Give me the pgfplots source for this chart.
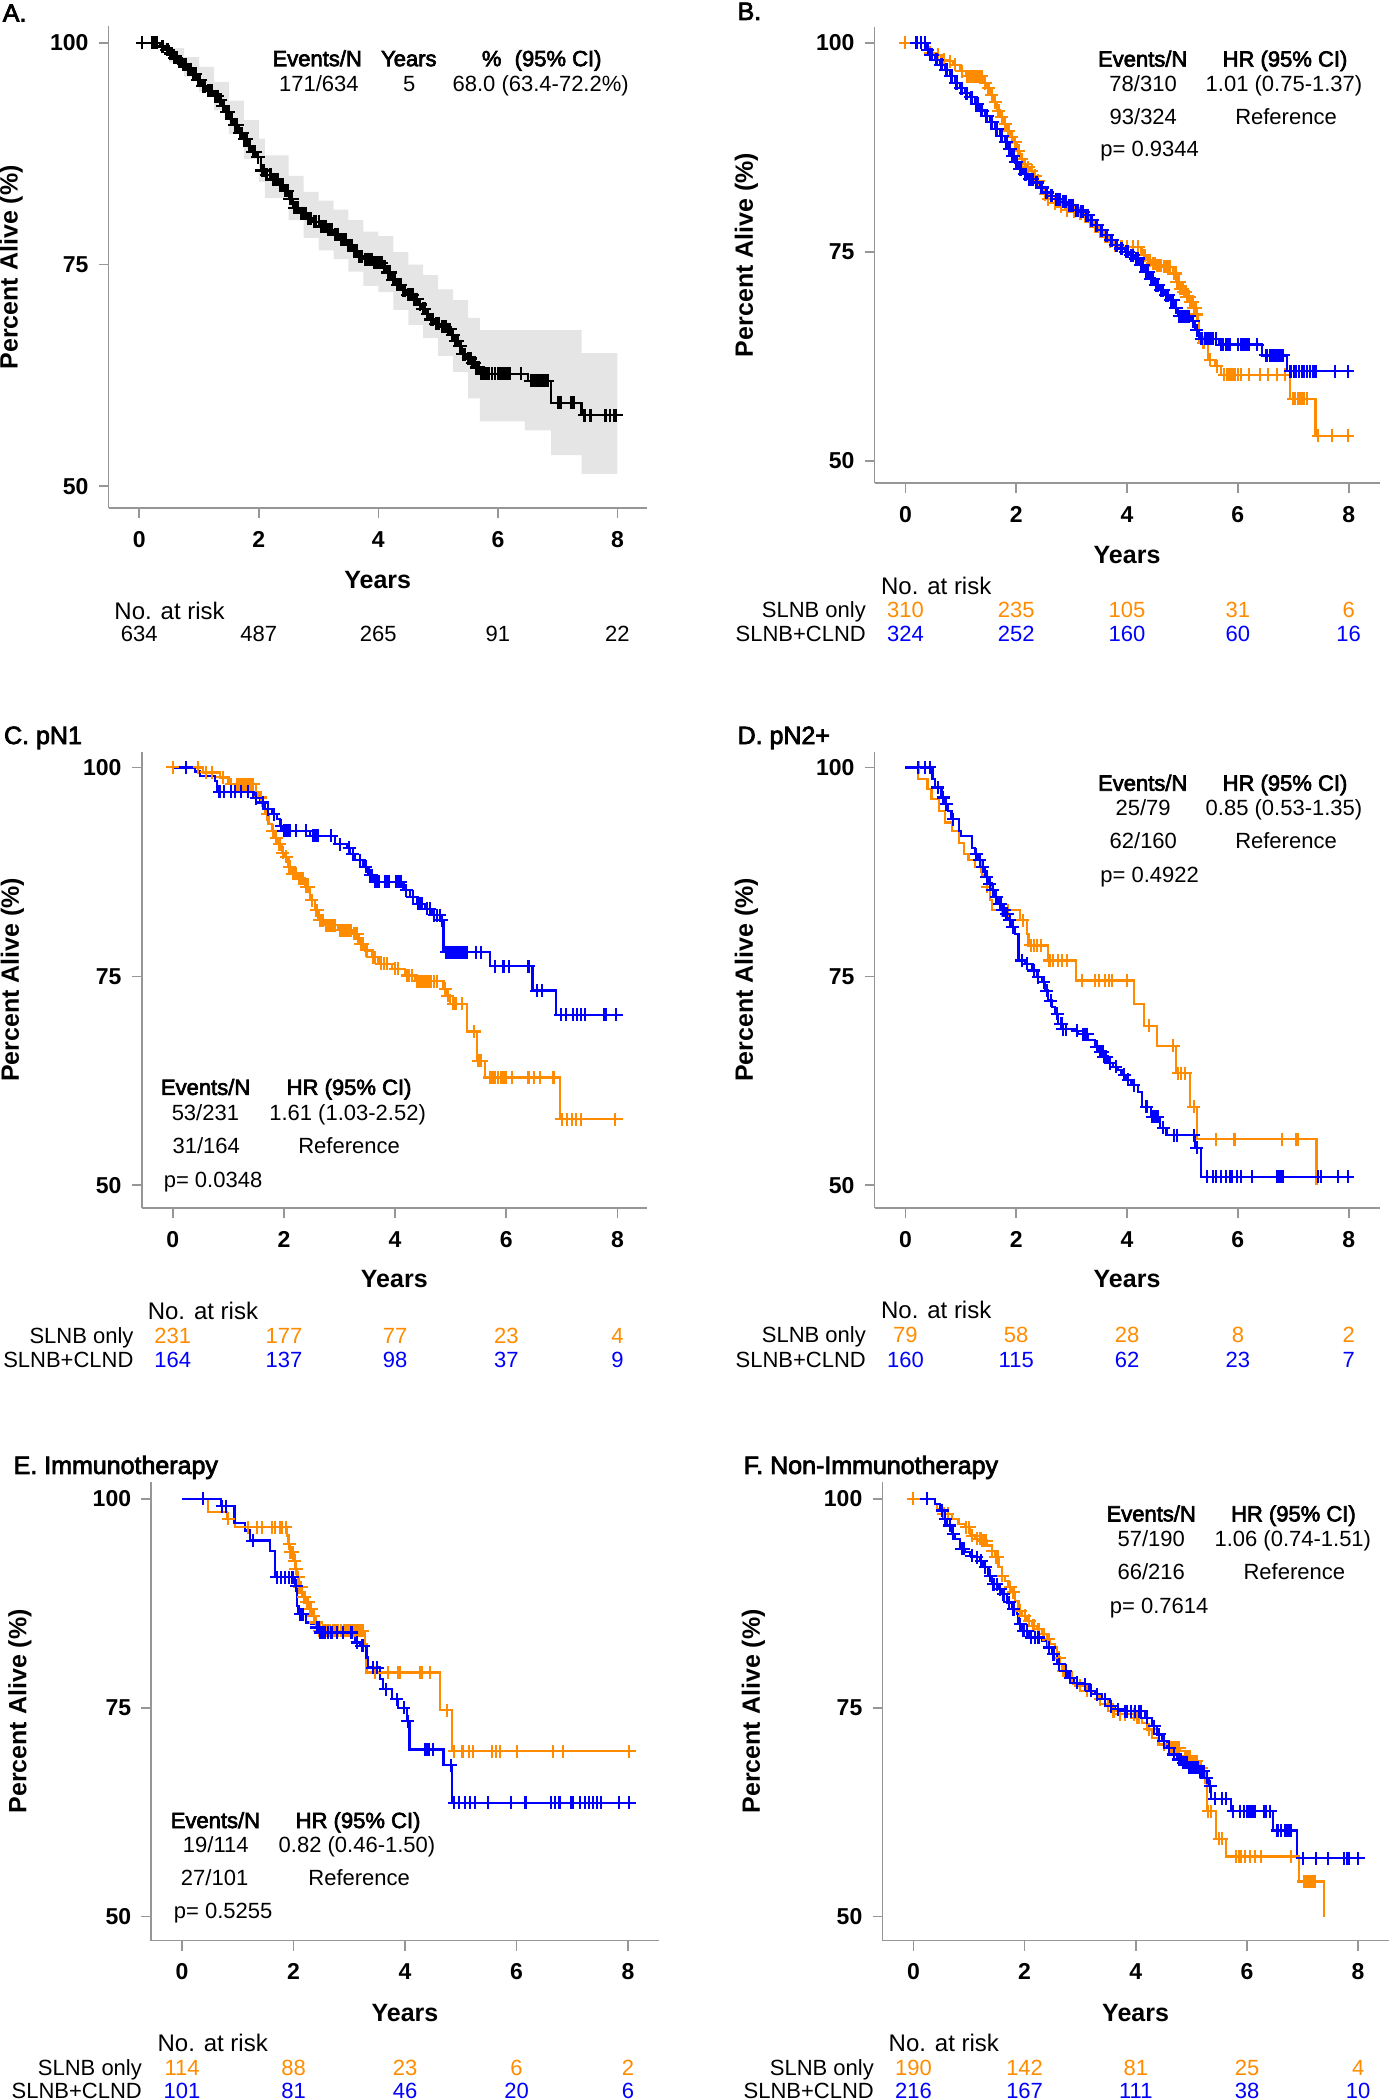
\documentclass[border=0pt]{standalone}
\usepackage{fontspec}
\setmainfont{Liberation Sans}
\newfontfamily\semib[FakeBold=3]{Liberation Sans}
\usepackage{pgfplots}
\pgfplotsset{compat=1.18}
\usepgfplotslibrary{fillbetween}

\definecolor{kmorange}{RGB}{255,140,0}
\definecolor{kmblue}{RGB}{0,0,255}
\definecolor{axgray}{RGB}{150,150,150}
\definecolor{bandgray}{RGB}{229,229,229}

\newcommand\fs[1]{\fontsize{#1pt}{#1pt}\selectfont}

\pgfplotsset{
 kmaxis/.style={
  anchor=south west, scale only axis, clip=false,
  axis lines*=left,
  axis line style={draw=axgray, line width=1.7pt},
  xtick={0,2,4,6,8}, ytick={50,75,100},
  tick align=outside, major tick length=10pt,
  tick style={draw=axgray, line width=1.7pt},
  /pgf/number format/assume math mode=true,
  ticklabel style={font=\fs{23}\bfseries, inner sep=0pt, text=black},
  xticklabel style={anchor=center, yshift=-21pt},
  yticklabel style={anchor=east, xshift=-10pt},
  xlabel={Years}, ylabel={Percent Alive (\%)},
 },
 oline/.style={const plot, draw=kmorange, line width=2.2pt, mark=none},
 bline/.style={const plot, draw=kmblue, line width=2.2pt, mark=none},
 kline/.style={const plot, draw=black, line width=2.2pt, mark=none},
 omark/.style={only marks, mark=+, mark size=6.5pt, color=kmorange, mark options={line width=2.1pt}},
 bmark/.style={only marks, mark=+, mark size=6.5pt, color=kmblue, mark options={line width=2.1pt}},
 kmark/.style={only marks, mark=+, mark size=6.5pt, color=black, mark options={line width=2.2pt}},
}

\begin{document}
\begin{tikzpicture}[t/.style={inner sep=0pt, anchor=base}]

%% ---------------- Panel A ----------------
\begin{axis}[kmaxis, at={(108.6pt,-508.3pt)}, width=538.3pt, height=482.0pt,
  xmin=-0.514, xmax=8.493, ymin=47.51, ymax=101.87,
  every axis x label/.style={at={(axis description cs:0.5,-0.148)},anchor=center,font=\fs{25}\bfseries},
  every axis y label/.style={at={(axis description cs:-0.181,0.5)},rotate=90,anchor=center,font=\fs{25}\bfseries}]
\addplot[name path=up, draw=none, const plot, forget plot] coordinates {
(0,100) (0.25,100) (0.5,99.4) (0.75,98.4) (1.0,97.3) (1.25,95.6) (1.5,93.5) (1.75,91.3) (2.0,89.2) (2.1,87.3) (2.5,85.0) (2.75,83.2) (3.0,82.2) (3.25,81.2) (3.5,80.0) (3.75,78.7) (4.0,78.2) (4.25,76.4) (4.5,75.0) (4.75,73.8) (5.0,72.2) (5.25,71.0) (5.5,69.0) (5.7,67.6) (7.4,65.0) (8.0,65.0)};
\addplot[name path=lo, draw=none, const plot, forget plot] coordinates {
(0,100) (0.25,99.4) (0.5,97.8) (0.75,96.2) (1.0,94.5) (1.25,92.4) (1.5,89.7) (1.75,86.9) (2.0,84.3) (2.1,82.5) (2.5,80.0) (2.75,78.0) (3.0,76.6) (3.25,75.6) (3.5,74.2) (3.75,72.6) (4.0,71.9) (4.25,69.9) (4.5,68.2) (4.75,66.7) (5.0,64.7) (5.25,62.9) (5.5,59.9) (5.7,57.3) (6.45,56.3) (6.89,53.5) (7.4,51.4) (8.0,51.4)};
\addplot[fill=bandgray, draw=none] fill between[of=up and lo];
\addplot[kline] coordinates {
(0,100) (0.35,99.6) (0.42,99.2) (0.50,98.8) (0.57,98.3) (0.65,97.9) (0.72,97.6) (0.80,97.0) (0.88,96.5) (0.96,95.8) (1.04,95.1) (1.13,94.6) (1.24,94.0) (1.33,93.6) (1.38,92.9) (1.44,92.2) (1.52,91.4) (1.58,90.7) (1.66,89.8) (1.74,89.2) (1.82,88.4) (1.88,87.7) (1.96,87.1) (2.03,85.6) (2.10,85.1) (2.22,84.6) (2.34,84.0) (2.42,83.3) (2.50,82.4) (2.57,81.4) (2.68,80.8) (2.80,80.2) (2.90,79.8) (3.02,79.3) (3.14,78.9) (3.25,78.4) (3.36,77.8) (3.47,77.2) (3.57,76.5) (3.66,75.9) (3.75,75.6) (3.92,75.2) (4.08,74.8) (4.14,74.1) (4.22,73.3) (4.30,72.7) (4.39,72.1) (4.47,71.6) (4.58,71.1) (4.67,70.5) (4.72,70.0) (4.80,69.4) (4.86,68.8) (4.94,68.3) (5.05,68.0) (5.14,67.7) (5.22,67.1) (5.28,66.4) (5.34,65.8) (5.39,64.9) (5.48,64.4) (5.56,63.9) (5.62,63.4) (5.70,62.7) (6.50,61.9) (6.89,59.4) (7.40,58.0) (8.10,58.0)};
\addplot[kmark] coordinates {
(0.05,100) (0.22,100) (0.26,100) (0.30,100) (0.38,99.6) (0.46,99.2) (0.54,98.8) (0.61,98.3) (0.69,97.9) (0.76,97.6) (0.84,97.0) (0.92,96.5) (1.00,95.8) (1.08,95.1) (1.10,95.1) (1.17,94.6) (1.21,94.6) (1.28,94.0) (1.35,93.6) (1.41,92.9) (1.48,92.2) (1.55,91.4) (1.62,90.7) (1.70,89.8) (1.78,89.2) (1.85,88.4) (1.92,87.7) (1.99,87.1) (2.05,85.6) (2.08,85.6) (2.14,85.1) (2.18,85.1) (2.26,84.6) (2.30,84.6) (2.38,84.0) (2.46,83.3) (2.54,82.4) (2.62,81.4) (2.65,81.4) (2.72,80.8) (2.76,80.8) (2.84,80.2) (2.87,80.2) (2.95,79.8) (3.06,79.3) (3.10,79.3) (3.18,78.9) (3.21,78.9) (3.30,78.4) (3.40,77.8) (3.43,77.8) (3.52,77.2) (3.61,76.5) (3.70,75.9) (3.80,75.6) (3.86,75.6) (3.96,75.2) (4.00,75.2) (4.04,75.2) (4.11,74.8) (4.18,74.1) (4.26,73.3) (4.34,72.7) (4.43,72.1) (4.52,71.6) (4.55,71.6) (4.62,71.1) (4.70,70.5) (4.76,70.0) (4.83,69.4) (4.90,68.8) (4.97,68.3) (5.00,68.3) (5.08,68.0) (5.11,68.0) (5.18,67.7) (5.25,67.1) (5.31,66.4) (5.36,65.8) (5.43,64.9) (5.45,64.9) (5.52,64.4) (5.59,63.9) (5.66,63.4) (5.75,62.7) (5.80,62.7) (5.83,62.7) (6.00,62.7) (6.05,62.7) (6.10,62.7) (6.15,62.7) (6.20,62.7) (6.38,62.7) (6.55,61.9) (6.60,61.9) (6.65,61.9) (6.70,61.9) (6.75,61.9) (6.83,61.9) (7.00,59.4) (7.05,59.4) (7.22,59.4) (7.27,59.4) (7.45,58.0) (7.55,58.0) (7.80,58.0) (7.88,58.0) (7.98,58.0)};
\addplot[kmark] coordinates {
(0.40,99.6) (0.48,99.2) (0.52,98.8) (0.59,98.3) (0.63,98.3) (0.67,97.9) (0.74,97.6) (0.78,97.6) (0.82,97.0) (0.86,97.0) (0.90,96.5) (0.94,96.5) (0.98,95.8) (1.02,95.8) (1.06,95.1) (1.15,94.6) (1.19,94.6) (1.26,94.0) (1.31,94.0) (1.36,93.6) (1.40,92.9) (1.46,92.2) (1.50,92.2) (1.54,91.4) (1.60,90.7) (1.64,90.7) (1.68,89.8) (1.72,89.8) (1.76,89.2) (1.80,89.2) (1.84,88.4) (1.90,87.7) (1.94,87.7) (1.98,87.1) (2.12,85.1) (2.20,85.1) (2.24,84.6) (2.28,84.6) (2.32,84.6) (2.36,84.0) (2.40,84.0) (2.44,83.3) (2.48,83.3) (2.52,82.4) (2.56,82.4) (2.59,81.4) (2.70,80.8) (2.74,80.8) (2.78,80.8) (2.82,80.2) (2.92,79.8) (3.00,79.8) (3.04,79.3) (3.13,79.3) (3.16,78.9) (3.23,78.9) (3.27,78.4) (3.33,78.4) (3.38,77.8) (3.45,77.8) (3.49,77.2) (3.55,77.2) (3.59,76.5) (3.64,76.5) (3.68,75.9) (3.73,75.9) (3.77,75.6) (3.83,75.6) (3.89,75.6) (3.93,75.2) (4.02,75.2) (4.06,75.2) (4.09,74.8) (4.16,74.1) (4.20,74.1) (4.24,73.3) (4.28,73.3) (4.32,72.7) (4.37,72.7) (4.41,72.1) (4.45,72.1) (4.49,71.6) (4.57,71.6) (4.60,71.1) (4.65,71.1) (4.69,70.5) (4.74,70.0) (4.78,70.0) (4.82,69.4) (4.88,68.8) (4.92,68.8) (4.96,68.3) (5.02,68.3) (5.07,68.0) (5.13,68.0) (5.16,67.7) (5.20,67.7) (5.24,67.1) (5.29,66.4) (5.33,66.4) (5.38,65.8) (5.41,64.9) (5.50,64.4) (5.54,64.4) (5.57,63.9) (5.61,63.9) (5.64,63.4) (5.68,63.4) (5.72,62.7) (5.78,62.7) (5.85,62.7) (5.90,62.7) (5.95,62.7) (6.02,62.7) (6.08,62.7) (6.12,62.7) (6.18,62.7) (6.58,61.9) (6.63,61.9) (6.68,61.9) (6.72,61.9) (6.78,61.9) (6.80,61.9) (7.02,59.4) (7.25,59.4) (7.95,58.0)};
\end{axis}

%% ---------------- Panel B ----------------
\begin{axis}[kmaxis, at={(874.6pt,-483.1pt)}, width=504.9pt, height=456.4pt,
  xmin=-0.556, xmax=8.556, ymin=47.32, ymax=101.94,
  every axis x label/.style={at={(axis description cs:0.5,-0.1575)},anchor=center,font=\fs{25}\bfseries},
  every axis y label/.style={at={(axis description cs:-0.254,0.5)},rotate=90,anchor=center,font=\fs{25}\bfseries}]
\addplot[oline] coordinates {
(0,100) (0.41,98.8) (0.53,98.6) (0.65,98.0) (0.77,97.8) (0.86,97.4) (0.98,96.6) (1.10,96.0) (1.41,95.2) (1.47,94.6) (1.53,93.8) (1.59,92.9) (1.65,91.9) (1.71,91.1) (1.77,90.3) (1.83,89.5) (1.89,88.7) (1.95,88.1) (2.01,87.1) (2.07,86.1) (2.13,85.5) (2.19,85.1) (2.25,84.7) (2.31,84.1) (2.37,83.5) (2.43,82.7) (2.49,81.9) (2.55,81.3) (2.64,80.8) (2.76,80.4) (2.88,80.0) (3.00,79.8) (3.12,79.6) (3.21,79.2) (3.30,78.6) (3.39,78.0) (3.48,77.4) (3.57,76.8) (3.66,76.2) (3.75,75.8) (3.84,75.6) (4.26,74.6) (4.35,74.0) (4.44,73.6) (4.53,73.4) (4.65,73.2) (4.83,72.4) (4.89,71.4) (4.95,70.6) (5.01,70.2) (5.07,69.6) (5.13,69.0) (5.19,68.3) (5.25,67.5) (5.28,66.7) (5.30,64.1) (5.46,62.1) (5.58,61.3) (5.70,60.3) (6.94,57.4) (7.40,53.0) (8.10,53.0)};
\addplot[omark] coordinates {
(0,100) (0.45,98.8) (0.58,98.6) (0.70,98.0) (0.80,97.8) (0.90,97.4) (1.02,96.6) (1.12,96.0) (1.15,96.0) (1.18,96.0) (1.21,96.0) (1.24,96.0) (1.27,96.0) (1.30,96.0) (1.35,96.0) (1.44,95.2) (1.50,94.6) (1.56,93.8) (1.62,92.9) (1.68,91.9) (1.74,91.1) (1.80,90.3) (1.86,89.5) (1.92,88.7) (1.98,88.1) (2.04,87.1) (2.10,86.1) (2.16,85.5) (2.22,85.1) (2.28,84.7) (2.34,84.1) (2.40,83.5) (2.46,82.7) (2.52,81.9) (2.58,81.3) (2.70,80.8) (2.80,80.4) (2.92,80.0) (3.05,79.8) (3.16,79.6) (3.25,79.2) (3.34,78.6) (3.43,78.0) (3.52,77.4) (3.61,76.8) (3.70,76.2) (3.79,75.8) (3.90,75.6) (4.00,75.6) (4.10,75.6) (4.20,75.6) (4.30,74.6) (4.40,74.0) (4.48,73.6) (4.58,73.4) (4.62,73.4) (4.70,73.2) (4.78,73.2) (4.86,72.4) (4.92,71.4) (4.98,70.6) (5.04,70.2) (5.10,69.6) (5.16,69.0) (5.22,68.3) (5.38,64.1) (5.50,62.1) (5.62,61.3) (5.75,60.3) (5.80,60.3) (5.85,60.3) (5.90,60.3) (5.95,60.3) (6.05,60.3) (6.20,60.3) (6.40,60.3) (6.55,60.3) (6.70,60.3) (6.85,60.3) (7.00,57.4) (7.08,57.4) (7.15,57.4) (7.25,57.4) (7.45,53.0) (7.70,53.0) (7.98,53.0)};
\addplot[omark] coordinates {
(1.13,96.0) (1.17,96.0) (1.20,96.0) (1.23,96.0) (1.26,96.0) (1.29,96.0) (1.32,96.0) (1.38,96.0) (4.32,74.6) (4.37,74.0) (4.42,74.0) (4.46,73.6) (4.50,73.6) (4.55,73.4) (4.66,73.2) (4.74,73.2) (4.84,72.4) (4.88,72.4) (4.90,71.4) (4.94,71.4) (4.96,70.6) (5.00,70.6) (5.02,70.2) (5.06,70.2) (5.08,69.6) (5.12,69.6) (5.14,69.0) (5.18,69.0) (5.20,68.3) (5.24,68.3) (5.26,67.5) (5.82,60.3) (5.87,60.3) (5.92,60.3) (6.00,60.3) (7.03,57.4) (7.12,57.4) (7.20,57.4)};
\addplot[bline] coordinates {
(0,100) (0.38,99.2) (0.44,98.6) (0.53,98.0) (0.62,97.4) (0.71,96.8) (0.80,96.0) (0.89,95.2) (0.98,94.6) (1.07,94.0) (1.16,93.5) (1.26,92.7) (1.35,91.9) (1.44,91.3) (1.53,90.5) (1.62,89.7) (1.71,88.9) (1.80,88.1) (1.86,87.3) (1.92,86.5) (1.98,85.7) (2.04,84.9) (2.13,84.3) (2.22,83.7) (2.34,83.3) (2.43,82.7) (2.52,82.1) (2.61,81.7) (2.70,81.3) (2.82,81.0) (2.94,80.6) (3.06,80.0) (3.15,79.8) (3.24,79.4) (3.33,78.8) (3.42,78.2) (3.51,77.6) (3.60,77.0) (3.69,76.4) (3.78,75.8) (3.87,75.4) (3.96,75.0) (4.05,74.6) (4.14,74.2) (4.23,73.4) (4.32,72.6) (4.41,71.8) (4.50,71.0) (4.59,70.4) (4.68,69.8) (4.77,69.2) (4.86,68.3) (4.92,67.3) (5.16,66.7) (5.22,65.6) (5.30,64.6) (5.66,63.9) (6.43,62.6) (6.89,60.7) (8.10,60.7)};
\addplot[bmark] coordinates {
(0.20,100) (0.28,100) (0.35,100) (0.40,99.2) (0.48,98.6) (0.57,98.0) (0.66,97.4) (0.75,96.8) (0.84,96.0) (0.93,95.2) (1.02,94.6) (1.11,94.0) (1.20,93.5) (1.30,92.7) (1.39,91.9) (1.48,91.3) (1.57,90.5) (1.66,89.7) (1.75,88.9) (1.83,88.1) (1.89,87.3) (1.95,86.5) (2.01,85.7) (2.08,84.9) (2.17,84.3) (2.27,83.7) (2.38,83.3) (2.47,82.7) (2.56,82.1) (2.65,81.7) (2.75,81.3) (2.87,81.0) (2.98,80.6) (3.10,80.0) (3.19,79.8) (3.28,79.4) (3.37,78.8) (3.46,78.2) (3.55,77.6) (3.64,77.0) (3.73,76.4) (3.82,75.8) (3.91,75.4) (4.00,75.0) (4.09,74.6) (4.18,74.2) (4.27,73.4) (4.36,72.6) (4.45,71.8) (4.54,71.0) (4.63,70.4) (4.72,69.8) (4.81,69.2) (4.89,68.3) (4.96,67.3) (5.00,67.3) (5.04,67.3) (5.08,67.3) (5.19,66.7) (5.26,65.6) (5.34,64.6) (5.40,64.6) (5.48,64.6) (5.55,64.6) (5.70,63.9) (5.78,63.9) (5.85,63.9) (6.05,63.9) (6.10,63.9) (6.15,63.9) (6.35,63.9) (6.50,62.6) (6.62,62.6) (6.70,62.6) (6.78,62.6) (6.95,60.7) (7.02,60.7) (7.10,60.7) (7.20,60.7) (7.30,60.7) (7.40,60.7) (7.75,60.7) (7.98,60.7)};
\addplot[bmark] coordinates {
(0.45,98.6) (0.55,98.0) (0.64,97.4) (0.73,96.8) (0.82,96.0) (0.91,95.2) (1.00,94.6) (1.09,94.0) (1.18,93.5) (1.28,92.7) (1.37,91.9) (1.46,91.3) (1.55,90.5) (1.64,89.7) (1.73,88.9) (1.81,88.1) (1.87,87.3) (1.93,86.5) (1.99,85.7) (2.06,84.9) (2.15,84.3) (2.24,83.7) (2.30,83.7) (2.36,83.3) (2.45,82.7) (2.54,82.1) (2.63,81.7) (2.72,81.3) (2.78,81.3) (2.84,81.0) (2.90,81.0) (2.96,80.6) (3.02,80.6) (3.08,80.0) (3.12,80.0) (3.17,79.8) (3.21,79.8) (3.26,79.4) (3.30,79.4) (3.35,78.8) (3.44,78.2) (3.53,77.6) (3.62,77.0) (3.71,76.4) (3.80,75.8) (3.89,75.4) (3.98,75.0) (4.02,75.0) (4.07,74.6) (4.11,74.6) (4.16,74.2) (4.20,74.2) (4.25,73.4) (4.29,73.4) (4.34,72.6) (4.38,72.6) (4.43,71.8) (4.47,71.8) (4.52,71.0) (4.56,71.0) (4.61,70.4) (4.65,70.4) (4.70,69.8) (4.74,69.8) (4.79,69.2) (4.83,69.2) (4.88,68.3) (4.94,67.3) (4.98,67.3) (5.02,67.3) (5.06,67.3) (5.10,67.3) (5.12,67.3) (5.36,64.6) (5.44,64.6) (5.52,64.6) (5.60,64.6) (5.73,63.9) (5.82,63.9) (6.00,63.9) (6.07,63.9) (6.12,63.9) (6.18,63.9) (6.20,63.9) (6.52,62.6) (6.58,62.6) (6.66,62.6) (6.74,62.6) (6.82,62.6) (7.05,60.7) (7.15,60.7) (7.25,60.7) (7.35,60.7)};
\end{axis}

%% ---------------- Panel C ----------------
\begin{axis}[kmaxis, at={(141.7pt,-1208.1pt)}, width=505.2pt, height=456.5pt,
  xmin=-0.560, xmax=8.53, ymin=47.27, ymax=101.89,
  every axis x label/.style={at={(axis description cs:0.5,-0.156)},anchor=center,font=\fs{25}\bfseries},
  every axis y label/.style={at={(axis description cs:-0.256,0.5)},rotate=90,anchor=center,font=\fs{25}\bfseries}]
\addplot[oline] coordinates {
(0,100) (0.55,99.4) (0.85,98.8) (1.00,98.0) (1.50,97.0) (1.54,96.4) (1.60,95.4) (1.66,94.4) (1.72,93.2) (1.78,92.4) (1.84,91.6) (1.90,90.8) (1.96,89.8) (2.02,89.3) (2.08,88.1) (2.14,87.3) (2.26,86.7) (2.38,85.7) (2.47,84.1) (2.56,82.9) (2.62,81.7) (2.74,81.1) (2.98,80.5) (3.22,80.1) (3.34,78.9) (3.46,78.1) (3.58,77.3) (3.70,76.5) (3.94,75.9) (4.18,75.1) (4.36,74.4) (4.87,73.5) (4.93,72.7) (4.99,71.7) (5.29,68.4) (5.47,64.9) (5.62,62.9) (6.96,57.9) (8.10,57.9)};
\addplot[omark] coordinates {
(0,100) (0.45,100) (0.60,99.4) (0.70,99.4) (0.90,98.8) (1.05,98.0) (1.15,98.0) (1.20,98.0) (1.25,98.0) (1.30,98.0) (1.35,98.0) (1.40,98.0) (1.45,98.0) (1.58,96.4) (1.70,94.4) (1.80,92.4) (1.86,91.6) (1.92,90.8) (1.98,89.8) (2.04,89.3) (2.10,88.1) (2.16,87.3) (2.20,87.3) (2.28,86.7) (2.32,86.7) (2.40,85.7) (2.44,85.7) (2.50,84.1) (2.58,82.9) (2.66,81.7) (2.70,81.7) (2.78,81.1) (2.82,81.1) (2.86,81.1) (2.92,81.1) (3.02,80.5) (3.08,80.5) (3.12,80.5) (3.18,80.5) (3.26,80.1) (3.30,80.1) (3.38,78.9) (3.42,78.9) (3.50,78.1) (3.62,77.3) (3.75,76.5) (3.80,76.5) (3.86,76.5) (4.00,75.9) (4.05,75.9) (4.22,75.1) (4.25,75.1) (4.30,75.1) (4.40,74.4) (4.45,74.4) (4.50,74.4) (4.55,74.4) (4.60,74.4) (4.65,74.4) (4.70,74.4) (4.76,74.4) (4.90,73.5) (4.95,72.7) (5.05,71.7) (5.10,71.7) (5.20,71.7) (5.42,68.4) (5.50,64.9) (5.55,64.9) (5.70,62.9) (5.75,62.9) (5.85,62.9) (5.90,62.9) (5.95,62.9) (6.00,62.9) (6.10,62.9) (6.40,62.9) (6.50,62.9) (6.60,62.9) (6.85,62.9) (7.00,57.9) (7.10,57.9) (7.18,57.9) (7.25,57.9) (7.35,57.9) (7.95,57.9)};
\addplot[omark] coordinates {
(1.18,98.0) (1.22,98.0) (1.28,98.0) (1.33,98.0) (1.38,98.0) (1.42,98.0) (2.18,87.3) (2.22,87.3) (2.30,86.7) (2.34,86.7) (2.42,85.7) (2.60,82.9) (2.64,81.7) (2.68,81.7) (2.76,81.1) (2.80,81.1) (2.84,81.1) (2.88,81.1) (2.90,81.1) (3.00,80.5) (3.04,80.5) (3.06,80.5) (3.10,80.5) (3.14,80.5) (3.16,80.5) (3.20,80.5) (3.28,80.1) (3.32,80.1) (3.48,78.1) (3.60,77.3) (3.64,77.3) (4.42,74.4) (4.48,74.4) (4.52,74.4) (5.72,62.9) (5.78,62.9) (5.80,62.9)};
\addplot[bline] coordinates {
(0,100) (0.40,99.5) (0.49,99.0) (0.76,98.4) (0.79,97.1) (1.45,96.3) (1.57,95.8) (1.66,95.0) (1.78,94.4) (1.87,93.8) (1.93,93.0) (1.99,92.4) (2.47,91.8) (2.92,90.8) (3.13,90.4) (3.19,89.6) (3.28,88.9) (3.43,88.1) (3.52,87.1) (3.62,86.3) (4.15,85.3) (4.27,84.5) (4.39,83.7) (4.54,83.1) (4.66,82.3) (4.81,81.7) (4.87,77.9) (5.70,76.2) (6.47,73.3) (6.90,70.4) (8.10,70.4)};
\addplot[bmark] coordinates {
(0.24,100) (0.84,97.1) (0.92,97.1) (1.05,97.1) (1.12,97.1) (1.22,97.1) (1.35,97.1) (1.50,96.3) (1.62,95.8) (1.72,95.0) (1.82,94.4) (1.95,93.0) (2.02,92.4) (2.05,92.4) (2.08,92.4) (2.22,92.4) (2.40,92.4) (2.55,91.8) (2.58,91.8) (2.62,91.8) (2.85,91.8) (3.00,90.8) (3.17,90.4) (3.24,89.6) (3.36,88.9) (3.47,88.1) (3.55,87.1) (3.58,87.1) (3.66,86.3) (3.70,86.3) (3.82,86.3) (3.86,86.3) (4.05,86.3) (4.10,86.3) (4.20,85.3) (4.32,84.5) (4.42,83.7) (4.45,83.7) (4.48,83.7) (4.58,83.1) (4.62,83.1) (4.70,82.3) (4.84,81.7) (4.92,77.9) (5.00,77.9) (5.02,77.9) (5.15,77.9) (5.20,77.9) (5.25,77.9) (5.30,77.9) (5.45,77.9) (5.55,77.9) (5.80,76.2) (5.95,76.2) (6.05,76.2) (6.40,76.2) (6.55,73.3) (6.65,73.3) (6.98,70.4) (7.08,70.4) (7.20,70.4) (7.28,70.4) (7.35,70.4) (7.42,70.4) (7.75,70.4) (7.80,70.4) (7.98,70.4)};
\addplot[bmark] coordinates {
(2.00,92.4) (2.04,92.4) (2.06,92.4) (2.10,92.4) (2.52,91.8) (2.56,91.8) (2.60,91.8) (3.56,87.1) (3.64,86.3) (3.68,86.3) (3.84,86.3) (3.88,86.3) (4.02,86.3) (4.07,86.3) (4.44,83.7) (4.46,83.7) (4.76,82.3) (4.80,82.3) (4.95,77.9) (4.98,77.9) (5.05,77.9) (5.10,77.9) (5.12,77.9) (5.18,77.9) (5.22,77.9) (5.28,77.9)};
\end{axis}

%% ---------------- Panel D ----------------
\begin{axis}[kmaxis, at={(874.6pt,-1208.1pt)}, width=504.9pt, height=456.5pt,
  xmin=-0.556, xmax=8.556, ymin=47.27, ymax=101.89,
  every axis x label/.style={at={(axis description cs:0.5,-0.156)},anchor=center,font=\fs{25}\bfseries},
  every axis y label/.style={at={(axis description cs:-0.254,0.5)},rotate=90,anchor=center,font=\fs{25}\bfseries}]
\addplot[oline] coordinates {
(0,100) (0.22,98.6) (0.40,97.4) (0.47,96.2) (0.60,94.8) (0.72,93.4) (0.84,92.4) (0.96,91.0) (1.05,89.6) (1.14,88.9) (1.26,88.1) (1.38,87.1) (1.47,85.7) (1.53,84.1) (1.56,82.9) (2.07,81.7) (2.19,80.1) (2.22,78.7) (2.58,76.9) (3.08,74.5) (4.12,71.7) (4.30,69.1) (4.54,66.7) (4.88,63.4) (5.14,59.4) (5.26,55.5) (7.42,50.0)};
\addplot[omark] coordinates {
(0.25,100) (1.37,88.1) (1.48,85.7) (1.75,82.9) (1.85,82.9) (2.12,81.7) (2.26,78.7) (2.32,78.7) (2.38,78.7) (2.45,78.7) (2.60,76.9) (2.66,76.9) (2.75,76.9) (2.82,76.9) (2.92,76.9) (3.18,74.5) (3.42,74.5) (3.50,74.5) (3.60,74.5) (3.68,74.5) (3.72,74.5) (4.00,74.5) (4.40,69.1) (4.83,66.7) (4.92,63.4) (4.98,63.4) (5.05,63.4) (5.20,59.4) (5.60,55.5) (5.93,55.5) (5.95,55.5) (6.80,55.5) (7.05,55.5) (7.08,55.5)};
\addplot[bline] coordinates {
(0,100) (0.49,98.6) (0.53,97.6) (0.65,96.4) (0.71,95.6) (0.77,94.8) (0.83,93.8) (0.96,92.4) (1.01,91.8) (1.20,90.4) (1.26,89.6) (1.32,88.9) (1.38,88.1) (1.44,86.9) (1.50,86.1) (1.56,85.3) (1.62,84.5) (1.68,83.7) (1.74,82.9) (1.80,82.5) (1.86,81.7) (1.92,80.9) (1.98,80.1) (2.04,76.9) (2.16,76.5) (2.28,75.7) (2.37,74.9) (2.46,74.3) (2.52,73.3) (2.58,72.1) (2.64,71.3) (2.70,70.5) (2.76,69.3) (2.85,68.7) (3.06,68.5) (3.12,68.1) (3.30,67.4) (3.42,66.6) (3.48,66.0) (3.57,65.4) (3.66,64.6) (3.75,64.2) (3.84,63.8) (3.90,63.2) (3.99,62.6) (4.08,62.0) (4.20,61.2) (4.27,59.4) (4.43,58.2) (4.59,56.9) (4.71,56.0) (5.22,54.5) (5.34,51.0) (8.10,51.0)};
\addplot[bmark] coordinates {
(0.23,100) (0.35,100) (0.44,100) (0.58,97.6) (0.68,96.4) (0.74,95.6) (0.86,93.8) (1.28,89.6) (1.34,88.9) (1.40,88.1) (1.47,86.9) (1.52,86.1) (1.58,85.3) (1.64,84.5) (1.70,83.7) (1.76,82.9) (1.82,82.5) (1.88,81.7) (1.94,80.9) (2.10,76.9) (2.20,76.5) (2.32,75.7) (2.40,74.9) (2.50,74.3) (2.55,73.3) (2.62,72.1) (2.74,70.5) (2.80,69.3) (2.82,69.3) (2.90,68.7) (3.10,68.5) (3.20,68.1) (3.22,68.1) (3.25,68.1) (3.28,68.1) (3.45,66.6) (3.52,66.0) (3.55,66.0) (3.60,65.4) (3.62,65.4) (3.70,64.6) (3.80,64.2) (3.95,63.2) (4.02,62.6) (4.12,62.0) (4.35,59.4) (4.45,58.2) (4.48,58.2) (4.55,58.2) (4.65,56.9) (4.85,56.0) (4.90,56.0) (5.20,56.0) (5.26,54.5) (5.45,51.0) (5.55,51.0) (5.60,51.0) (5.70,51.0) (5.78,51.0) (5.85,51.0) (5.90,51.0) (5.98,51.0) (6.05,51.0) (6.25,51.0) (6.70,51.0) (6.75,51.0) (6.80,51.0) (7.45,51.0) (7.50,51.0) (7.80,51.0) (7.98,51.0)};
\addplot[bmark] coordinates {
(1.72,83.7) (1.78,82.9) (1.84,82.5) (2.84,68.7) (3.24,68.1) (3.26,68.1) (3.56,66.0) (3.58,65.4) (4.46,58.2) (4.50,58.2) (4.52,58.2) (6.72,51.0) (6.78,51.0) (6.82,51.0)};
\end{axis}

%% ---------------- Panel E ----------------
\begin{axis}[kmaxis, at={(151.3pt,-1940.6pt)}, width=507.4pt, height=458.7pt,
  xmin=-0.552, xmax=8.55, ymin=47.12, ymax=102.02,
  every axis x label/.style={at={(axis description cs:0.5,-0.157)},anchor=center,font=\fs{25}\bfseries},
  every axis y label/.style={at={(axis description cs:-0.259,0.5)},rotate=90,anchor=center,font=\fs{25}\bfseries}]
\addplot[oline] coordinates {
(0,100) (0.46,98.4) (0.80,97.6) (0.95,96.6) (1.88,95.6) (1.91,94.6) (1.94,93.6) (2.00,92.6) (2.03,91.6) (2.06,90.6) (2.09,89.4) (2.15,88.2) (2.21,87.6) (2.27,86.8) (2.33,86.0) (2.38,85.2) (2.44,84.2) (3.28,82.6) (3.31,79.2) (4.63,74.7) (4.84,69.8) (8.10,69.8)};
\addplot[omark] coordinates {
(0.83,97.6) (1.19,96.6) (1.34,96.6) (1.43,96.6) (1.61,96.6) (1.67,96.6) (1.76,96.6) (1.79,96.6) (1.86,96.6) (1.92,94.6) (1.96,93.6) (2.02,92.6) (2.05,91.6) (2.08,90.6) (2.12,89.4) (2.18,88.2) (2.24,87.6) (2.30,86.8) (2.36,86.0) (2.41,85.2) (2.47,84.2) (2.52,84.2) (2.56,84.2) (2.62,84.2) (2.70,84.2) (2.76,84.2) (2.85,84.2) (2.95,84.2) (3.02,84.2) (3.08,84.2) (3.12,84.2) (3.18,84.2) (3.24,84.2) (3.46,79.2) (3.70,79.2) (3.88,79.2) (3.91,79.2) (4.27,79.2) (4.30,79.2) (4.45,79.2) (4.75,74.7) (4.88,69.8) (5.03,69.8) (5.14,69.8) (5.22,69.8) (5.56,69.8) (5.63,69.8) (5.71,69.8) (6.01,69.8) (6.65,69.8) (6.84,69.8) (8.02,69.8)};
\addplot[omark] coordinates {
(1.94,93.6) (1.98,93.6) (2.04,91.6) (2.10,89.4) (2.14,89.4) (2.20,88.2) (2.26,87.6) (2.32,86.8) (2.40,85.2) (2.46,84.2) (2.54,84.2) (2.58,84.2) (2.66,84.2) (2.72,84.2) (2.80,84.2) (2.90,84.2) (3.00,84.2) (3.05,84.2) (3.10,84.2) (3.15,84.2) (3.20,84.2) (3.90,79.2) (4.28,79.2)};
\addplot[bline] coordinates {
(0,100) (0.70,99.1) (0.94,97.1) (1.13,96.2) (1.22,95.0) (1.58,93.8) (1.67,90.6) (2.03,89.6) (2.06,87.2) (2.09,86.2) (2.23,85.2) (2.32,85.0) (2.41,84.6) (2.47,84.0) (3.10,82.8) (3.19,82.4) (3.31,81.0) (3.34,79.8) (3.55,78.4) (3.61,77.2) (3.76,76.0) (3.88,75.0) (4.03,73.4) (4.08,70.0) (4.69,68.1) (4.84,63.6) (8.10,63.6)};
\addplot[bmark] coordinates {
(0.38,100) (0.72,99.1) (0.78,99.1) (1.27,95.0) (1.70,90.6) (1.78,90.6) (1.84,90.6) (1.92,90.6) (1.98,90.6) (2.05,89.6) (2.12,86.2) (2.16,86.2) (2.45,84.6) (2.50,84.0) (2.52,84.0) (2.56,84.0) (2.62,84.0) (2.68,84.0) (2.78,84.0) (2.88,84.0) (3.04,84.0) (3.14,82.8) (3.22,82.4) (3.25,82.4) (3.42,79.8) (3.50,79.8) (3.65,77.2) (3.85,76.0) (3.98,75.0) (4.05,73.4) (4.35,70.0) (4.40,70.0) (4.42,70.0) (4.50,70.0) (4.82,68.1) (4.88,63.6) (4.97,63.6) (5.07,63.6) (5.16,63.6) (5.26,63.6) (5.48,63.6) (5.90,63.6) (6.16,63.6) (6.62,63.6) (6.69,63.6) (6.77,63.6) (6.98,63.6) (7.02,63.6) (7.14,63.6) (7.22,63.6) (7.30,63.6) (7.37,63.6) (7.45,63.6) (7.52,63.6) (7.83,63.6) (8.02,63.6)};
\addplot[bmark] coordinates {
(2.42,84.6) (2.44,84.6) (2.48,84.0) (4.36,70.0) (4.38,70.0) (4.41,70.0) (7.00,63.6) (7.01,63.6)};
\end{axis}

%% ---------------- Panel F ----------------
\begin{axis}[kmaxis, at={(882.5pt,-1940.6pt)}, width=506.2pt, height=458.7pt,
  xmin=-0.556, xmax=8.55, ymin=47.12, ymax=102.02,
  every axis x label/.style={at={(axis description cs:0.5,-0.157)},anchor=center,font=\fs{25}\bfseries},
  every axis y label/.style={at={(axis description cs:-0.255,0.5)},rotate=90,anchor=center,font=\fs{25}\bfseries}]
\addplot[oline] coordinates {
(0,100) (0.39,99.4) (0.42,98.8) (0.54,98.2) (0.69,97.6) (0.81,97.0) (0.93,96.6) (1.02,95.6) (1.11,95.2) (1.23,95.0) (1.32,94.4) (1.41,93.8) (1.47,93.0) (1.53,91.8) (1.59,90.8) (1.65,90.2) (1.71,89.4) (1.77,88.8) (1.83,87.8) (1.89,86.6) (1.95,86.0) (2.04,85.4) (2.13,84.8) (2.22,84.4) (2.31,83.8) (2.40,83.2) (2.46,82.6) (2.55,82.2) (2.58,81.0) (2.64,80.2) (2.67,79.4) (2.79,78.6) (2.88,77.8) (2.97,77.6) (3.09,77.0) (3.21,76.6) (3.33,76.0) (3.45,75.4) (3.57,74.6) (3.69,74.2) (3.99,73.8) (4.11,73.2) (4.20,72.4) (4.29,71.4) (4.41,70.6) (4.53,70.2) (4.80,69.8) (4.89,69.2) (5.01,68.6) (5.13,67.8) (5.22,66.6) (5.28,62.6) (5.44,59.3) (5.63,57.2) (6.94,54.2) (7.38,49.9)};
\addplot[omark] coordinates {
(0,100) (0.55,98.2) (0.62,98.2) (0.95,96.6) (1.00,96.6) (1.06,95.6) (1.15,95.2) (1.20,95.2) (1.24,95.0) (1.27,95.0) (1.30,95.0) (1.42,93.8) (1.48,93.0) (1.52,93.0) (1.60,90.8) (1.74,89.4) (1.80,88.8) (1.92,86.6) (2.00,86.0) (2.08,85.4) (2.16,84.8) (2.25,84.4) (2.34,83.8) (2.43,83.2) (2.62,81.0) (2.70,79.4) (2.85,78.6) (3.00,77.6) (3.12,77.0) (3.36,76.0) (3.50,75.4) (3.60,74.6) (3.72,74.2) (3.80,74.2) (3.96,74.2) (4.02,73.8) (4.06,73.8) (4.24,72.4) (4.50,70.6) (4.60,70.2) (4.68,70.2) (4.72,70.2) (4.78,70.2) (4.92,69.2) (4.98,69.2) (5.06,68.6) (5.10,68.6) (5.18,67.8) (5.25,66.6) (5.30,62.6) (5.35,62.6) (5.50,59.3) (5.55,59.3) (5.80,57.2) (5.85,57.2) (5.90,57.2) (5.97,57.2) (6.05,57.2) (6.15,57.2) (6.25,57.2) (6.80,57.2) (7.02,54.2) (7.10,54.2) (7.15,54.2) (7.22,54.2)};
\addplot[omark] coordinates {
(1.21,95.2) (1.25,95.0) (1.28,95.0) (1.31,95.0) (4.62,70.2) (4.66,70.2) (4.70,70.2) (4.74,70.2) (4.76,70.2) (4.90,69.2) (4.95,69.2) (5.02,68.6) (5.08,68.6) (7.05,54.2) (7.08,54.2) (7.12,54.2) (7.18,54.2) (7.20,54.2)};
\addplot[bline] coordinates {
(0,100) (0.39,99.4) (0.48,98.6) (0.54,97.6) (0.60,96.8) (0.69,95.8) (0.75,95.2) (0.84,94.0) (0.93,93.6) (1.02,93.2) (1.11,93.0) (1.20,92.6) (1.26,91.8) (1.35,90.8) (1.41,89.8) (1.53,89.2) (1.59,88.6) (1.68,87.6) (1.77,86.8) (1.86,86.2) (1.89,85.0) (1.95,84.2) (2.07,83.4) (2.31,83.0) (2.40,82.2) (2.49,81.4) (2.58,80.2) (2.70,79.4) (2.79,78.6) (2.88,78.0) (3.03,77.8) (3.15,77.0) (3.27,76.6) (3.39,76.0) (3.51,75.2) (3.63,74.8) (3.75,74.6) (4.17,73.8) (4.29,72.8) (4.38,71.8) (4.47,71.0) (4.56,70.2) (4.65,69.4) (4.74,68.8) (4.83,68.4) (4.95,67.8) (5.13,67.4) (5.25,66.6) (5.31,65.6) (5.36,64.1) (5.72,62.6) (6.47,60.3) (6.90,57.0) (8.10,57.0)};
\addplot[bmark] coordinates {
(0.24,100) (0.52,98.6) (0.57,97.6) (0.65,96.8) (0.72,95.8) (0.87,94.0) (0.90,94.0) (1.05,93.2) (1.14,93.0) (1.22,92.6) (1.29,91.8) (1.38,90.8) (1.44,89.8) (1.50,89.8) (1.56,89.2) (1.62,88.6) (1.72,87.6) (1.80,86.8) (1.92,85.0) (1.98,84.2) (2.05,84.2) (2.12,83.4) (2.18,83.4) (2.25,83.4) (2.44,82.2) (2.52,81.4) (2.62,80.2) (2.74,79.4) (2.82,78.6) (2.95,78.0) (3.08,77.8) (3.20,77.0) (3.30,76.6) (3.44,76.0) (3.55,75.2) (3.68,74.8) (3.80,74.6) (3.85,74.6) (3.92,74.6) (3.98,74.6) (4.05,74.6) (4.10,74.6) (4.20,73.8) (4.33,72.8) (4.42,71.8) (4.50,71.0) (4.60,70.2) (4.68,69.4) (4.77,68.8) (4.80,68.8) (4.87,68.4) (4.92,68.4) (5.00,67.8) (5.05,67.8) (5.10,67.8) (5.18,67.4) (5.22,67.4) (5.28,66.6) (5.34,65.6) (5.42,64.1) (5.55,64.1) (5.62,64.1) (5.75,62.6) (5.88,62.6) (5.95,62.6) (6.00,62.6) (6.05,62.6) (6.10,62.6) (6.30,62.6) (6.35,62.6) (6.42,62.6) (6.55,60.3) (6.62,60.3) (6.68,60.3) (6.72,60.3) (6.80,60.3) (7.00,57.0) (7.25,57.0) (7.45,57.0) (7.75,57.0) (7.80,57.0) (8.00,57.0)};
\addplot[bmark] coordinates {
(4.82,68.8) (4.85,68.4) (4.90,68.4) (4.95,67.8) (5.02,67.8) (5.08,67.8) (5.12,67.8) (5.15,67.4) (5.20,67.4) (6.02,62.6) (6.07,62.6) (6.12,62.6) (6.15,62.6) (6.70,60.3) (6.75,60.3) (6.78,60.3) (7.82,57.0) (7.84,57.0)};
\end{axis}

%% ---------------- Texts ----------------
% Panel A
\node[t, anchor=base west, font=\semib\fs{25}] at (2.6pt,-21.6pt) {A.};
\node[t, font=\semib\fs{22}] at (317.2pt,-66.2pt) {Events/N};
\node[t, font=\semib\fs{22}] at (408.8pt,-66.2pt) {Years};
\node[t, font=\semib\fs{22}] at (541.7pt,-66.2pt) {\%\hspace{0.6em}(95\% CI)};
\node[t, font=\fs{22}] at (318.9pt,-91.1pt) {171/634};
\node[t, font=\fs{22}] at (409.3pt,-91.1pt) {5};
\node[t, font=\fs{22}] at (540.7pt,-91.1pt) {68.0 (63.4-72.2\%)};
\node[t, font=\fs{24}] at (169.6pt,-619.4pt) {No. at risk};
\node[t, font=\fs{22}] at (139.3pt,-641.6pt) {634};
\node[t, font=\fs{22}] at (258.8pt,-641.6pt) {487};
\node[t, font=\fs{22}] at (378.3pt,-641.6pt) {265};
\node[t, font=\fs{22}] at (497.9pt,-641.6pt) {91};
\node[t, font=\fs{22}] at (617.4pt,-641.6pt) {22};

% Panel B
\node[t, anchor=base west, font=\semib\fs{25}] at (737.4pt,-19.9pt) {B.};
\node[t, font=\semib\fs{22}] at (1142.7pt,-66.6pt) {Events/N};
\node[t, font=\semib\fs{22}] at (1285pt,-66.6pt) {HR (95\% CI)};
\node[t, font=\fs{22}] at (1143.1pt,-91.5pt) {78/310};
\node[t, font=\fs{22}] at (1284pt,-91.5pt) {1.01 (0.75-1.37)};
\node[t, font=\fs{22}] at (1143.3pt,-124.7pt) {93/324};
\node[t, font=\fs{22}] at (1286pt,-124.7pt) {Reference};
\node[t, anchor=base west, font=\fs{22}] at (1100.2pt,-156.7pt) {p= 0.9344};
\node[t, font=\fs{24}] at (936.2pt,-594.7pt) {No. at risk};
\node[t, anchor=base east, font=\fs{22}] at (866pt,-617.7pt) {SLNB only};
\node[t, anchor=base east, font=\fs{22}] at (866pt,-641.8pt) {SLNB+CLND};
\begin{scope}[every node/.append style={text=kmorange}]
\node[t, font=\fs{22}] at (905.4pt,-617.7pt) {310};
\node[t, font=\fs{22}] at (1016.2pt,-617.7pt) {235};
\node[t, font=\fs{22}] at (1127.0pt,-617.7pt) {105};
\node[t, font=\fs{22}] at (1237.9pt,-617.7pt) {31};
\node[t, font=\fs{22}] at (1348.7pt,-617.7pt) {6};
\end{scope}
\begin{scope}[every node/.append style={text=kmblue}]
\node[t, font=\fs{22}] at (905.4pt,-641.8pt) {324};
\node[t, font=\fs{22}] at (1016.2pt,-641.8pt) {252};
\node[t, font=\fs{22}] at (1127.0pt,-641.8pt) {160};
\node[t, font=\fs{22}] at (1237.9pt,-641.8pt) {60};
\node[t, font=\fs{22}] at (1348.7pt,-641.8pt) {16};
\end{scope}

% Panel C
\node[t, anchor=base west, font=\semib\fs{25}] at (3.9pt,-744pt) {C. pN1};
\node[t, font=\semib\fs{22}] at (205.6pt,-1094.9pt) {Events/N};
\node[t, font=\semib\fs{22}] at (349.1pt,-1094.9pt) {HR (95\% CI)};
\node[t, font=\fs{22}] at (205.4pt,-1120.6pt) {53/231};
\node[t, font=\fs{22}] at (347.6pt,-1120.6pt) {1.61 (1.03-2.52)};
\node[t, font=\fs{22}] at (206.2pt,-1153.8pt) {31/164};
\node[t, font=\fs{22}] at (349.1pt,-1153.8pt) {Reference};
\node[t, anchor=base west, font=\fs{22}] at (163.6pt,-1187.0pt) {p= 0.0348};
\node[t, font=\fs{24}] at (202.9pt,-1319.6pt) {No. at risk};
\node[t, anchor=base east, font=\fs{22}] at (133.7pt,-1343.4pt) {SLNB only};
\node[t, anchor=base east, font=\fs{22}] at (133.7pt,-1367.5pt) {SLNB+CLND};
\begin{scope}[every node/.append style={text=kmorange}]
\node[t, font=\fs{22}] at (172.8pt,-1343.4pt) {231};
\node[t, font=\fs{22}] at (284.0pt,-1343.4pt) {177};
\node[t, font=\fs{22}] at (395.1pt,-1343.4pt) {77};
\node[t, font=\fs{22}] at (506.3pt,-1343.4pt) {23};
\node[t, font=\fs{22}] at (617.4pt,-1343.4pt) {4};
\end{scope}
\begin{scope}[every node/.append style={text=kmblue}]
\node[t, font=\fs{22}] at (172.8pt,-1367.5pt) {164};
\node[t, font=\fs{22}] at (284.0pt,-1367.5pt) {137};
\node[t, font=\fs{22}] at (395.1pt,-1367.5pt) {98};
\node[t, font=\fs{22}] at (506.3pt,-1367.5pt) {37};
\node[t, font=\fs{22}] at (617.4pt,-1367.5pt) {9};
\end{scope}

% Panel D
\node[t, anchor=base west, font=\semib\fs{25}] at (737.4pt,-744pt) {D. pN2+};
\node[t, font=\semib\fs{22}] at (1142.7pt,-790.7pt) {Events/N};
\node[t, font=\semib\fs{22}] at (1285pt,-790.7pt) {HR (95\% CI)};
\node[t, font=\fs{22}] at (1143.1pt,-815.6pt) {25/79};
\node[t, font=\fs{22}] at (1284pt,-815.6pt) {0.85 (0.53-1.35)};
\node[t, font=\fs{22}] at (1143.3pt,-848.8pt) {62/160};
\node[t, font=\fs{22}] at (1286pt,-848.8pt) {Reference};
\node[t, anchor=base west, font=\fs{22}] at (1100.2pt,-882.1pt) {p= 0.4922};
\node[t, font=\fs{24}] at (936.2pt,-1318.4pt) {No. at risk};
\node[t, anchor=base east, font=\fs{22}] at (866pt,-1342.6pt) {SLNB only};
\node[t, anchor=base east, font=\fs{22}] at (866pt,-1367.5pt) {SLNB+CLND};
\begin{scope}[every node/.append style={text=kmorange}]
\node[t, font=\fs{22}] at (905.4pt,-1342.6pt) {79};
\node[t, font=\fs{22}] at (1016.2pt,-1342.6pt) {58};
\node[t, font=\fs{22}] at (1127.0pt,-1342.6pt) {28};
\node[t, font=\fs{22}] at (1237.9pt,-1342.6pt) {8};
\node[t, font=\fs{22}] at (1348.7pt,-1342.6pt) {2};
\end{scope}
\begin{scope}[every node/.append style={text=kmblue}]
\node[t, font=\fs{22}] at (905.4pt,-1367.5pt) {160};
\node[t, font=\fs{22}] at (1016.2pt,-1367.5pt) {115};
\node[t, font=\fs{22}] at (1127.0pt,-1367.5pt) {62};
\node[t, font=\fs{22}] at (1237.9pt,-1367.5pt) {23};
\node[t, font=\fs{22}] at (1348.7pt,-1367.5pt) {7};
\end{scope}

% Panel E
\node[t, anchor=base west, font=\semib\fs{25}] at (13.5pt,-1473.9pt) {E. Immunotherapy};
\node[t, font=\semib\fs{22}] at (215.4pt,-1828.0pt) {Events/N};
\node[t, font=\semib\fs{22}] at (358.1pt,-1828.0pt) {HR (95\% CI)};
\node[t, font=\fs{22}] at (215.8pt,-1852.5pt) {19/114};
\node[t, font=\fs{22}] at (357.0pt,-1852.5pt) {0.82 (0.46-1.50)};
\node[t, font=\fs{22}] at (214.6pt,-1885.9pt) {27/101};
\node[t, font=\fs{22}] at (359.2pt,-1885.9pt) {Reference};
\node[t, anchor=base west, font=\fs{22}] at (173.7pt,-1918.9pt) {p= 0.5255};
\node[t, font=\fs{24}] at (212.7pt,-2051.6pt) {No. at risk};
\node[t, anchor=base east, font=\fs{22}] at (142.1pt,-2075.4pt) {SLNB only};
\node[t, anchor=base east, font=\fs{22}] at (142.1pt,-2098.6pt) {SLNB+CLND};
\begin{scope}[every node/.append style={text=kmorange}]
\node[t, font=\fs{22}] at (182.1pt,-2075.4pt) {114};
\node[t, font=\fs{22}] at (293.6pt,-2075.4pt) {88};
\node[t, font=\fs{22}] at (405.1pt,-2075.4pt) {23};
\node[t, font=\fs{22}] at (516.6pt,-2075.4pt) {6};
\node[t, font=\fs{22}] at (628.1pt,-2075.4pt) {2};
\end{scope}
\begin{scope}[every node/.append style={text=kmblue}]
\node[t, font=\fs{22}] at (182.1pt,-2098.6pt) {101};
\node[t, font=\fs{22}] at (293.6pt,-2098.6pt) {81};
\node[t, font=\fs{22}] at (405.1pt,-2098.6pt) {46};
\node[t, font=\fs{22}] at (516.6pt,-2098.6pt) {20};
\node[t, font=\fs{22}] at (628.1pt,-2098.6pt) {6};
\end{scope}

% Panel F
\node[t, anchor=base west, font=\semib\fs{25}] at (743.6pt,-1473.9pt) {F. Non-Immunotherapy};
\node[t, font=\semib\fs{22}] at (1151.2pt,-1521.4pt) {Events/N};
\node[t, font=\semib\fs{22}] at (1293.4pt,-1521.4pt) {HR (95\% CI)};
\node[t, font=\fs{22}] at (1151.2pt,-1546.8pt) {57/190};
\node[t, font=\fs{22}] at (1292.8pt,-1546.8pt) {1.06 (0.74-1.51)};
\node[t, font=\fs{22}] at (1151.2pt,-1579.8pt) {66/216};
\node[t, font=\fs{22}] at (1294.3pt,-1579.8pt) {Reference};
\node[t, anchor=base west, font=\fs{22}] at (1109.7pt,-1613.2pt) {p= 0.7614};
\node[t, font=\fs{24}] at (943.8pt,-2051.6pt) {No. at risk};
\node[t, anchor=base east, font=\fs{22}] at (874pt,-2075.4pt) {SLNB only};
\node[t, anchor=base east, font=\fs{22}] at (874pt,-2098.6pt) {SLNB+CLND};
\begin{scope}[every node/.append style={text=kmorange}]
\node[t, font=\fs{22}] at (913.4pt,-2075.4pt) {190};
\node[t, font=\fs{22}] at (1024.6pt,-2075.4pt) {142};
\node[t, font=\fs{22}] at (1135.8pt,-2075.4pt) {81};
\node[t, font=\fs{22}] at (1247.2pt,-2075.4pt) {25};
\node[t, font=\fs{22}] at (1358.1pt,-2075.4pt) {4};
\end{scope}
\begin{scope}[every node/.append style={text=kmblue}]
\node[t, font=\fs{22}] at (913.4pt,-2098.6pt) {216};
\node[t, font=\fs{22}] at (1024.6pt,-2098.6pt) {167};
\node[t, font=\fs{22}] at (1135.8pt,-2098.6pt) {111};
\node[t, font=\fs{22}] at (1247.2pt,-2098.6pt) {38};
\node[t, font=\fs{22}] at (1358.1pt,-2098.6pt) {10};
\end{scope}

\pgfresetboundingbox
\path[use as bounding box] (0pt,0pt) rectangle (1393pt,-2100pt);
\end{tikzpicture}
\end{document}
